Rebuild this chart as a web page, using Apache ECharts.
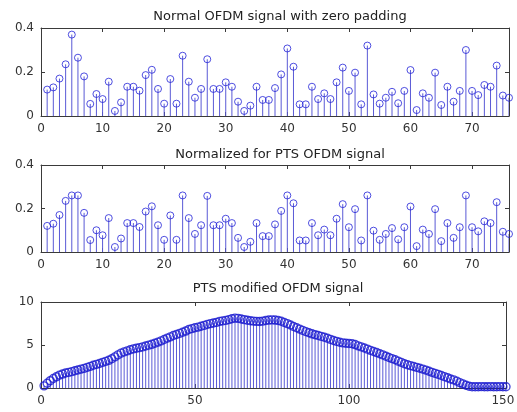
<!DOCTYPE html>
<html>
<head>
<meta charset="utf-8">
<script src="https://cdn.jsdelivr.net/npm/echarts@6/dist/echarts.min.js"></script>
<style>
html,body{margin:0;padding:0;background:#fff;}
#c{width:517px;height:412px;}
</style>
</head>
<body>
<div id="c"></div>
<script>
// ---- data ----
var titles = ["Normal OFDM signal with zero padding", "Normalized for PTS OFDM signal", "PTS modified OFDM signal"];

var normalSignal = [0.12,0.13,0.17,0.235,0.37,0.265,0.18,0.055,0.10,0.077,
  0.156,0.023,0.062,0.133,0.133,0.115,0.186,0.21,0.123,0.056,
  0.168,0.056,0.274,0.156,0.083,0.123,0.258,0.123,0.123,0.153,
  0.133,0.065,0.023,0.047,0.133,0.073,0.073,0.127,0.189,0.307,
  0.224,0.053,0.053,0.133,0.077,0.103,0.077,0.153,0.22,0.114,
  0.197,0.053,0.32,0.098,0.056,0.083,0.11,0.058,0.114,0.209,
  0.027,0.103,0.083,0.197,0.05,0.133,0.065,0.114,0.30,0.114,
  0.095,0.141,0.133,0.229,0.093,0.083];

var normalizedSignal = [0.12,0.13,0.17,0.235,0.26,0.26,0.18,0.055,0.10,0.077,
  0.156,0.023,0.062,0.133,0.133,0.115,0.186,0.21,0.123,0.056,
  0.168,0.056,0.26,0.156,0.083,0.123,0.258,0.123,0.123,0.153,
  0.133,0.065,0.023,0.047,0.133,0.073,0.073,0.127,0.189,0.26,
  0.224,0.053,0.053,0.133,0.077,0.103,0.077,0.153,0.22,0.114,
  0.197,0.053,0.26,0.098,0.056,0.083,0.11,0.058,0.114,0.209,
  0.027,0.103,0.083,0.197,0.05,0.133,0.065,0.114,0.26,0.114,
  0.095,0.141,0.133,0.229,0.093,0.083];

var ptsSignal = [0.25,0.55,0.85,1.10,1.30,1.50,1.62,1.75,1.82,1.90,
  2.00,2.10,2.20,2.28,2.40,2.52,2.65,2.75,2.85,2.98,
  3.10,3.22,3.40,3.62,3.85,4.05,4.20,4.32,4.45,4.55,
  4.63,4.70,4.78,4.88,4.98,5.08,5.20,5.34,5.48,5.64,
  5.80,5.95,6.10,6.22,6.35,6.48,6.62,6.80,6.90,7.00,
  7.08,7.18,7.28,7.40,7.48,7.56,7.63,7.75,7.80,7.86,
  7.95,8.05,8.12,8.10,8.02,7.95,7.88,7.82,7.78,7.75,
  7.74,7.78,7.85,7.90,7.92,7.90,7.85,7.76,7.62,7.48,
  7.32,7.15,7.00,6.85,6.70,6.55,6.42,6.30,6.20,6.10,
  6.00,5.90,5.78,5.65,5.52,5.42,5.32,5.25,5.20,5.18,
  5.15,5.05,4.90,4.78,4.65,4.52,4.38,4.25,4.12,3.98,
  3.85,3.70,3.55,3.42,3.28,3.12,2.98,2.82,2.70,2.60,
  2.50,2.40,2.30,2.20,2.08,1.95,1.82,1.70,1.58,1.45,
  1.32,1.20,1.05,0.95,0.80,0.62,0.48,0.32,0.20,0.15,
  0.15,0.15,0.16,0.15,0.15,0.16,0.15,0.15,0.16,0.15,0.15];

var xTicksTop = [0,10,20,30,40,50,60,70];
var yTicksTop = [0,0.2,0.4];
var xTicksPts = [0,50,100,150];
var yTicksPts = [0,5,10];
var xMaxTop = 76, yMaxTop = 0.4;
var xMaxPts = 151, yMaxPts = 10;

// ---- styling ----
var AX = '#3a3a3a';
var FONT = 'DejaVu Sans';
var STEM = '#5a5ad6';
var MARK = '#2323d8';
var MARK3 = '#1a1ad0';

function toPairs(arr){ return arr.map(function(v,i){ return [i+1, v]; }); }

function xAx(g, max, ticks, pos){
  return {type:'value', gridIndex:g, position:pos, min:0, max:max,
    axisLine:{show:true, onZero:false, lineStyle:{color:AX, width:1}},
    axisTick:{show:true, inside:true, length:4, customValues:ticks, lineStyle:{color:AX}},
    axisLabel:{show:pos==='bottom', customValues:ticks, color:'#333', fontSize:12, fontFamily:FONT, margin:7},
    splitLine:{show:false}};
}
function yAx(g, max, ticks, pos){
  return {type:'value', gridIndex:g, position:pos, min:0, max:max,
    axisLine:{show:true, onZero:false, lineStyle:{color:AX, width:1}},
    axisTick:{show:true, inside:true, length:4, customValues:ticks, lineStyle:{color:AX}},
    axisLabel:{show:pos==='left', customValues:ticks, color:'#333', fontSize:12, fontFamily:FONT, margin:7},
    splitLine:{show:false}};
}
function stems(g, data, color){
  return {type:'custom', xAxisIndex:g*2, yAxisIndex:g*2, data:data, silent:true, z:2,
    clip:true,
    renderItem:function(params, api){
      var p0 = api.coord([api.value(0), 0]);
      var p1 = api.coord([api.value(0), api.value(1)]);
      return {type:'line', shape:{x1:p0[0], y1:p0[1], x2:p1[0], y2:p1[1]},
        style:{stroke:color, lineWidth:1}};
    }};
}
function marks(g, data, color, size, bw){
  return {type:'scatter', xAxisIndex:g*2, yAxisIndex:g*2, data:data, silent:true, z:3,
    symbol:'circle', symbolSize:size,
    itemStyle:{color:'rgba(255,255,255,0)', borderColor:color, borderWidth:bw}};
}

var d1 = toPairs(normalSignal), d2 = toPairs(normalizedSignal), d3 = toPairs(ptsSignal);
var tStyle = {fontSize:13, fontWeight:'normal', color:'#222', fontFamily:FONT};

var option = {
  backgroundColor:'#ffffff',
  animation:false,
  title:[
    {text:titles[0], left:275, top:5, textAlign:'center', textStyle:tStyle},
    {text:titles[1], left:275, top:143, textAlign:'center', textStyle:tStyle},
    {text:titles[2], left:273, top:277, textAlign:'center', textStyle:tStyle}
  ],
  grid:[
    {left:41, top:28, width:468, height:88, outerBoundsMode:'none'},
    {left:41, top:165, width:468, height:87, outerBoundsMode:'none'},
    {left:41, top:302, width:465, height:86, outerBoundsMode:'none'}
  ],
  xAxis:[
    xAx(0, xMaxTop, xTicksTop, 'bottom'), xAx(0, xMaxTop, xTicksTop, 'top'),
    xAx(1, xMaxTop, xTicksTop, 'bottom'), xAx(1, xMaxTop, xTicksTop, 'top'),
    xAx(2, xMaxPts, xTicksPts, 'bottom'), xAx(2, xMaxPts, xTicksPts, 'top')
  ],
  yAxis:[
    yAx(0, yMaxTop, yTicksTop, 'left'), yAx(0, yMaxTop, yTicksTop, 'right'),
    yAx(1, yMaxTop, yTicksTop, 'left'), yAx(1, yMaxTop, yTicksTop, 'right'),
    yAx(2, yMaxPts, yTicksPts, 'left'), yAx(2, yMaxPts, yTicksPts, 'right')
  ],
  series:[
    stems(0, d1, STEM), marks(0, d1, MARK, 7, 1),
    stems(1, d2, STEM), marks(1, d2, MARK, 7, 1),
    stems(2, d3, STEM), marks(2, d3, MARK3, 8, 1.4)
  ]
};
var chart = echarts.init(document.getElementById('c'), null, {renderer:'canvas'});
chart.setOption(option);
</script>
</body>
</html>
